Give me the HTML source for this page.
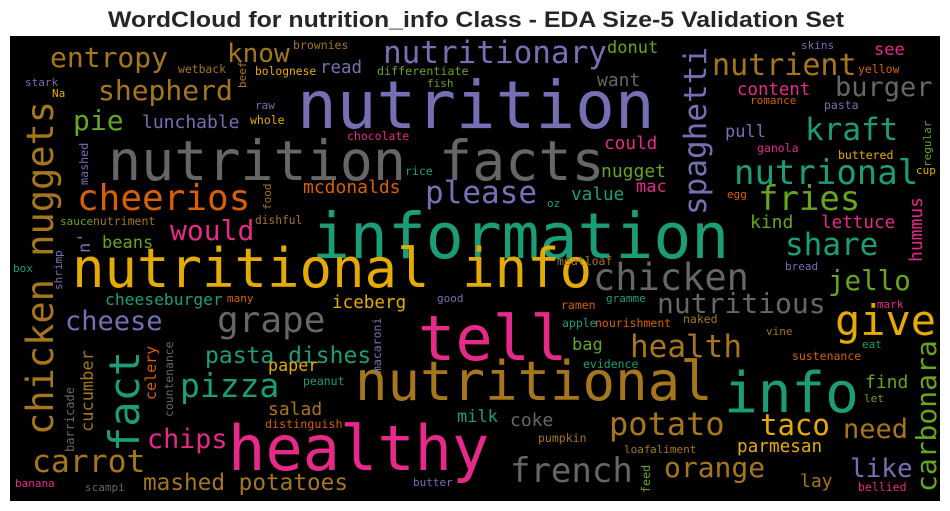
<!DOCTYPE html>
<html><head><meta charset="utf-8"><style>
html,body{margin:0;padding:0;background:#fff;}
svg{display:block;}
text.w{font-family:"DejaVu Sans Mono","Liberation Mono",monospace;}
</style></head><body>
<svg id="chart" width="950" height="511" viewBox="0 0 950 511">
<text x="476" y="27" text-anchor="middle" font-family="Liberation Sans, Arial, sans-serif" font-weight="bold" font-size="22" fill="#262626" textLength="736" lengthAdjust="spacingAndGlyphs">WordCloud for nutrition_info Class - EDA Size-5 Validation Set</text>
<rect x="10" y="36" width="930" height="465" fill="#000"/>
<g id="words"></g>
</svg>
<script>
const words = ["nutrition","nutrition facts","information","nutritional info","tell","nutritional","info","healthy",
"chicken nuggets","fact","spaghetti","carbonara","hummus","regular","celery","cucumber","barricade","countenance","macaroni","mashed","beef","food","n'","shrimp","feed",
"entropy","know","brownies","wetback","bolognese","read","differentiate","fish","stark","Na","shepherd","raw","pie","lunchable","whole","chocolate","rice","cheerios","mcdonalds","please","would","dishful","sauce","nutriment","beans","box","nutritionary",
"donut","want","nutrient","see","skins","yellow","burger","content","romance","pasta","pull","kraft","could","ganola","buttered","cup","nutrional","nugget","mac","value","oz","egg","fries","kind","lettuce","share","meatloaf","bread",
"cheeseburger","many","iceberg","good","cheese","grape","pasta dishes","paper","peanut","pizza","salad","distinguish","chips","carrot","mashed potatoes","banana","scampi","butter","milk",
"chicken","jello","nutritious","gramme","ramen","mark","give","apple","nourishment","naked","vine","bag","health","eat","sustenance","evidence","find","let","coke","potato","taco","need","pumpkin","parmesan","loaf","aliment","french","orange","like","lay","bellied"];
const sizes = [66,55,63,54,62,54,56,62,
37,42,31,28,18,11,15,17,12,11.4,11.5,11.7,11,11,17,11,11.7,
28,26,11.5,11.4,11.3,17.5,11.7,11,11,11,28,11,28,18,11.5,11.5,11.5,36,18,31,28,11.2,11,11.5,17,11,31,
17,18,30,17,11,11.5,27,17.4,11,11.5,17,31,17.7,11.5,11.5,11,34,18,17,17.7,11,11,34,18,17.6,31,11.5,11,
16.3,11,17.6,11,27,36,23,16.7,11.5,33,18,11.7,26.7,31.4,22.7,11,11,11,17,
37,27.5,28,11,11.5,11,42,11.5,11.5,11.5,11,17,31,11,11.5,11.5,18,11,18,32,29,27,11.5,17.7,11,11,34,28,26,18,11.5];
const T="#1b9e77",O="#d95f02",P="#7570b3",K="#e7298a",G="#66a61e",Y="#e6ab02",B="#a6761d",Gr="#666666";
const colors = [P,Gr,T,Y,K,B,T,K,
B,T,P,G,K,G,O,B,Gr,Gr,P,P,B,B,P,P,G,
B,B,B,B,Y,P,G,G,P,Y,B,P,G,P,Y,K,T,O,O,P,K,B,G,B,G,T,P,
G,Gr,B,K,P,O,Gr,K,O,P,P,T,K,K,Y,Y,T,G,K,T,T,O,G,G,K,T,B,P,
T,O,Y,P,P,Gr,T,Y,T,T,B,O,K,B,B,K,Gr,P,T,
Gr,G,Gr,T,O,K,Y,T,O,B,B,G,B,T,O,T,G,G,Gr,B,Y,B,B,Y,B,B,Gr,B,P,B,K];
// layout (x, baseline y, rotation)
const layoutX = [297,108,312,72,418,355,724,228,
53,139,706,936,922,931,156,93,74,173,381,88,246,271,90,62,650,
50,227,293,178,255,320,377,427,25,52,98,255,73,142,250,347,405,77,303,425,170,255,60,93,102,13,383,
607,597,712,874,801,858,835,737,750,824,725,805,604,757,838,916,734,601,636,571,547,727,758,750,821,785,557,785,
105,227,332,437,65,217,205,268,303,180,268,265,147,32,143,15,85,413,457,
593,828,657,606,561,877,835,562,595,683,766,572,630,862,792,583,865,864,510,609,760,843,538,737,624,650,510,664,850,800,858];
const layoutY = [128,180,258,287,360,400,412,470,
435,452,215,492,262,167,400,432,452,417,373,185,88,210,253,290,493,
67,62,49,73,75,73,75,87,86,97,100,109,130,128,124,140,175,210,193,203,240,224,225,225,248,272,63,
53,86,75,55,49,73,96,95,104,109,137,140,149,152,159,174,184,177,192,200,207,198,210,228,228,255,265,270,
305,302,308,302,330,332,363,371,385,397,415,428,448,472,490,487,491,486,422,
290,290,313,302,309,308,335,327,327,323,335,350,357,348,360,368,388,402,426,435,435,438,442,452,453,453,482,477,477,487,491];
const rotated = new Set(["chicken nuggets","fact","spaghetti","carbonara","hummus","regular","celery","cucumber","barricade","countenance","macaroni","mashed","beef","food","n'","shrimp","feed"]);
const g = document.getElementById('words');
const NS = "http://www.w3.org/2000/svg";
words.forEach((w,i)=>{
  const t = document.createElementNS(NS,'text');
  t.setAttribute('class','w');
  t.setAttribute('font-size', sizes[i]);
  t.setAttribute('fill', colors[i]);
  if (rotated.has(w) && i < 25) {
    t.setAttribute('transform','translate('+layoutX[i]+','+layoutY[i]+') rotate(-90)');
  } else {
    t.setAttribute('x', layoutX[i]);
    t.setAttribute('y', layoutY[i]);
  }
  t.setAttribute('textLength', (0.602*sizes[i]*w.length).toFixed(1));
  t.textContent = w;
  
  
  g.appendChild(t);
});
</script>
</body></html>
